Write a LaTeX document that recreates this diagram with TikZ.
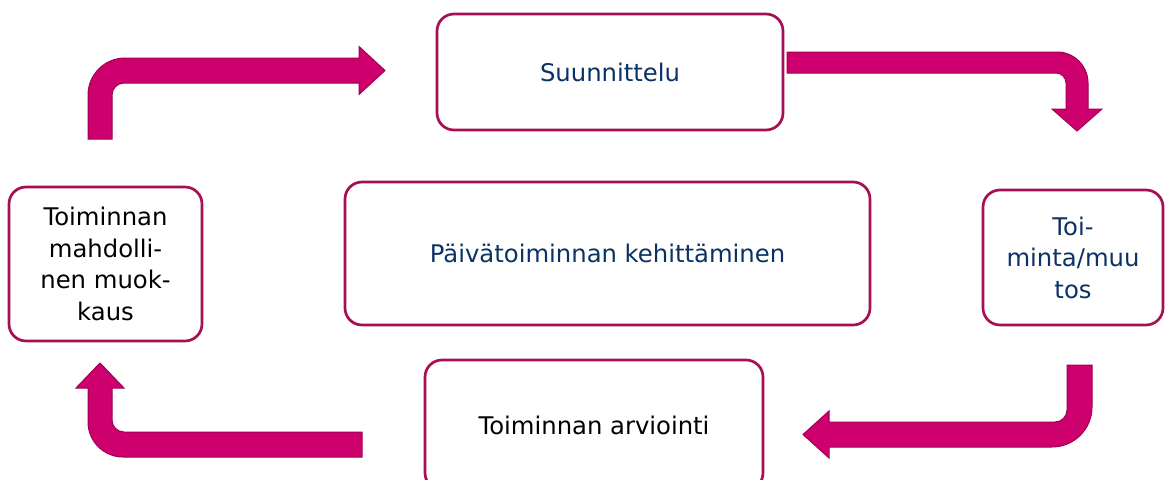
\documentclass[tikz,border=0pt]{standalone}
\usepackage{fontspec}
\setmainfont{DejaVu Sans}
\definecolor{boxline}{RGB}{166,16,82}
\definecolor{arrowfill}{RGB}{206,0,110}
\definecolor{arrowline}{RGB}{160,0,80}
\definecolor{navy}{RGB}{10,50,100}
\begin{document}
\begin{tikzpicture}[x=1pt,y=-1pt,
  box/.style={draw=boxline,line width=2.7pt,rounded corners=17pt,fill=white,
    inner sep=0pt,align=center,font=\fontsize{24.3}{31.5}\selectfont},
  bent/.style={fill=arrowfill,draw=arrowline,line width=1pt,line join=miter}]
\useasboundingbox (0,0) rectangle (1166,479);
\clip (0,0) rectangle (1166,479);
% boxes
\node[box,text=navy,minimum width=346pt,minimum height=116pt] (suun) at (610,72) {Suunnittelu};
\node[box,text=navy,minimum width=525pt,minimum height=143pt] (kehit) at (607.5,253.5) {Päivätoiminnan kehittäminen};
\node[box,text=black,minimum width=193pt,minimum height=154pt] (muok) at (105.5,264) {Toiminnan\\mahdolli-\\nen muok-\\kaus};
\node[box,text=navy,minimum width=180pt,minimum height=135pt] (toim) at (1073,257.5) {Toi-\\minta/muu\\tos};
\node[box,text=black,minimum width=338pt,minimum height=130pt] (arvi) at (594,425) {Toiminnan arviointi};
% bent arrows
\draw[bent] (88,139) -- (88,95) .. controls (88,74.6) and (104.6,58) .. (125,58) -- (359,58) -- (359,46.5) -- (385,70.5) -- (359,94.5) -- (359,83) -- (124,83) .. controls (117.4,83) and (112,88.4) .. (112,95) -- (112,139) -- cycle;
\draw[bent] (787,52) -- (1057,52) .. controls (1074.1,52) and (1088,65.9) .. (1088,83) -- (1088,109) -- (1102,109) -- (1077,131) -- (1052,109) -- (1066,109) -- (1066,83) .. controls (1066,77.5) and (1061.5,73) .. (1056,73) -- (787,73) -- cycle;
\draw[bent] (1067,365) -- (1092,365) -- (1092,407) .. controls (1092,429.1) and (1074.1,447) .. (1052,447) -- (829,447) -- (829,458) -- (803,434.5) -- (829,411) -- (829,422) -- (1055,422) .. controls (1061.6,422) and (1067,416.6) .. (1067,410) -- cycle;
\draw[bent] (362,457) -- (123,457) .. controls (103.7,457) and (88,441.3) .. (88,422) -- (88,388) -- (76,388) -- (100,363) -- (124,388) -- (112,388) -- (112,420) .. controls (112,426.6) and (117.4,432) .. (124,432) -- (362,432) -- cycle;
\end{tikzpicture}
\end{document}
